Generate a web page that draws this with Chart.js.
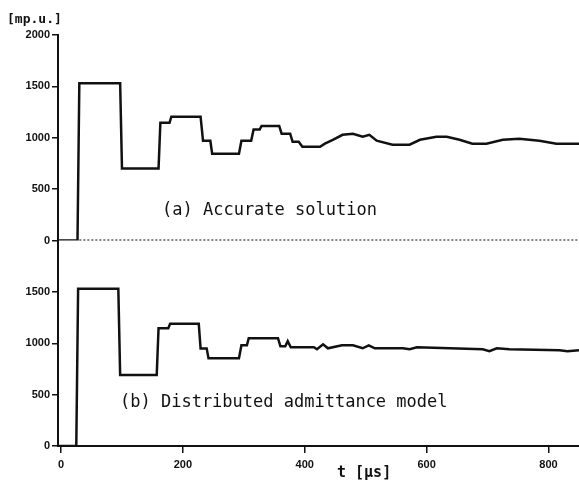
<!DOCTYPE html>
<html>
<head>
<meta charset="utf-8">
<script src="https://cdn.jsdelivr.net/npm/chart.js@4.4.0/dist/chart.umd.min.js"></script>
<style>
  html, body { margin: 0; padding: 0; background: #fff; }
  #wrap { width: 579px; height: 483px; }
</style>
</head>
<body>
<div id="wrap"><canvas id="chart"></canvas></div>
<script>
// (a) accurate solution : time [us] / voltage [mp.u.]
var tA = [-5, 27, 30, 97, 100, 160, 163, 178, 181, 229, 233, 245, 248, 292, 296, 312, 316, 326, 329, 358,
          362, 376, 380, 390, 396, 425, 433, 446, 462, 479, 495, 506, 518, 544, 572, 589, 616, 633, 654, 675,
          698, 725, 752, 785, 813, 850];
var vA = [0, 0, 1530, 1530, 700, 700, 1145, 1145, 1205, 1205, 970, 970, 845, 845, 970, 970, 1080, 1080, 1115, 1115,
          1040, 1040, 960, 960, 912, 912, 942, 980, 1029, 1039, 1010, 1029, 971, 932, 932, 980, 1010, 1010, 980, 942,
          942, 980, 990, 971, 942, 942];

// (b) distributed admittance model
var tB = [-5, 25, 28, 94, 97, 157, 160, 176, 179, 226, 229, 239, 242, 292, 296, 305, 308, 356, 360, 368,
          372, 377, 415, 420, 430, 438, 461, 479, 495, 505, 515, 523, 561, 572, 584, 692, 703, 715, 736, 818,
          831, 850];
var vB = [0, 0, 1530, 1530, 690, 690, 1147, 1147, 1190, 1190, 950, 950, 853, 853, 980, 980, 1049, 1049, 970, 970,
          1020, 961, 961, 941, 990, 951, 980, 980, 951, 980, 951, 951, 951, 941, 961, 941, 922, 951, 941, 931,
          922, 931];

// dotted zero line of the upper plot
var zeroT = [30, 850];
var zeroV = [0, 0];

var xTicks = [0, 200, 400, 600, 800];
var yTicksA = [0, 500, 1000, 1500, 2000];
var yTicksB = [0, 500, 1000, 1500];

function pts(t, v) {
  return t.map(function (x, i) { return {x: x, y: v[i]}; });
}

var ink = '#111';
var tickFont = {family: 'Liberation Sans', size: 11, weight: 'bold'};
var plain = function (v) { return String(v); }; // no thousands comma

function yScale(ticks) {
  return {
    type: 'linear',
    position: 'left',
    stack: 'v',
    stackWeight: 1,
    min: 0,
    max: 2000,
    afterBuildTicks: function (s) { s.ticks = ticks.map(function (v) { return {value: v}; }); },
    afterFit: function (s) { s.width = 58; },
    grid: {drawOnChartArea: false, drawTicks: true, tickLength: 6, color: ink, lineWidth: 1.5},
    border: {display: true, color: ink, width: 2},
    ticks: {color: ink, font: tickFont, padding: 2, callback: plain}
  };
}

var labels = {
  id: 'labels',
  afterDraw: function (chart) {
    var c = chart.ctx;
    c.save();
    c.fillStyle = ink;
    c.textBaseline = 'middle';
    c.textAlign = 'left';
    c.font = 'bold 13px "DejaVu Sans Mono"';
    c.fillText('[mp.u.]', 7, 20);
    c.font = '17px "DejaVu Sans Mono"';
    c.fillText('(a) Accurate solution', 162, 211);
    c.fillText('(b) Distributed admittance model', 120, 403);
    c.font = 'bold 15px "DejaVu Sans Mono"';
    c.fillText('t [\u03bcs]', 337, 473);
    c.restore();
  }
};

var ctx = document.getElementById('chart').getContext('2d');
var myChart = new Chart(ctx, {
  type: 'line',
  data: {
    datasets: [
      {data: pts(tB, vB), yAxisID: 'yB', borderColor: ink, borderWidth: 2.5, pointRadius: 0, tension: 0},
      {data: pts(tA, vA), yAxisID: 'yA', borderColor: ink, borderWidth: 2.5, pointRadius: 0, tension: 0},
      {data: pts(zeroT, zeroV), yAxisID: 'yA', borderColor: ink, borderWidth: 2, borderDash: [2, 2], pointRadius: 0}
    ]
  },
  options: {
    responsive: true,
    maintainAspectRatio: false,
    animation: false,
    layout: {padding: {top: 35, left: 0, right: 0, bottom: 0}},
    plugins: {legend: {display: false}, tooltip: {enabled: false}},
    scales: {
      x: {
        type: 'linear',
        min: -5,
        max: 850,
        afterBuildTicks: function (s) { s.ticks = xTicks.map(function (v) { return {value: v}; }); },
        afterFit: function (s) { s.height = 37; },
        grid: {drawOnChartArea: false, drawTicks: true, tickLength: 7, color: ink, lineWidth: 1.5},
        border: {display: true, color: ink, width: 2},
        ticks: {color: ink, font: tickFont, padding: 5, maxRotation: 0, callback: plain}
      },
      yB: yScale(yTicksB),
      yA: yScale(yTicksA)
    }
  },
  plugins: [labels]
});
</script>
</body>
</html>
